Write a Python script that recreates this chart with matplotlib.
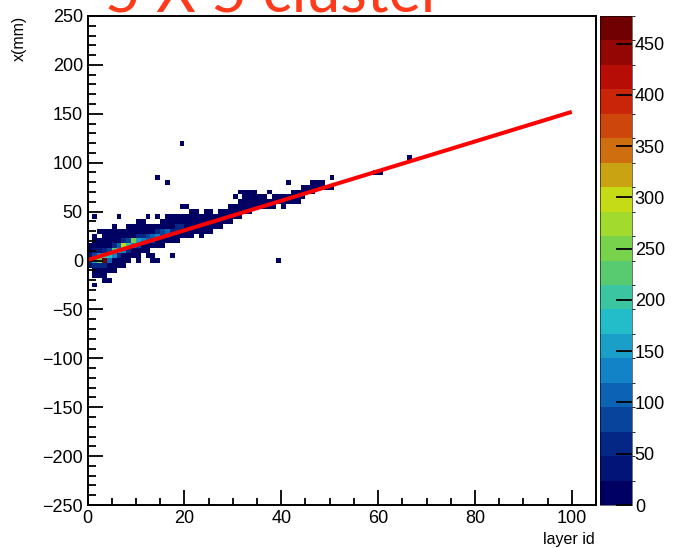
import numpy as np
import matplotlib
matplotlib.use("Agg")
import matplotlib.pyplot as plt
from matplotlib.colors import LinearSegmentedColormap, ListedColormap, BoundaryNorm

plt.rcParams['font.family'] = ['Liberation Sans', 'DejaVu Sans']

# ---- data ----
# occupied y bins (mm, bin centres) for each layer id
occupied = {
    0: [-5, 0, 5, 10, 15],
    1: [-25, -15, -10, -5, 0, 5, 10, 15, 20, 25, 45],
    2: [-15, -10, -5, 0, 5, 10, 15, 20, 30],
    3: [-20, -15, -10, -5, 0, 5, 10, 15, 20, 25, 30],
    4: [-20, -10, -5, 0, 5, 10, 15, 20, 25, 30],
    5: [-10, -5, 0, 5, 10, 15, 20, 25, 30, 35],
    6: [-5, 0, 5, 10, 15, 20, 25, 30, 45],
    7: [-5, 0, 5, 10, 15, 20, 25, 30],
    8: [0, 5, 10, 15, 20, 25, 30, 35],
    9: [5, 10, 15, 20, 25, 30, 35],
    10: [0, 5, 10, 15, 20, 25, 30, 35, 40],
    11: [10, 15, 20, 25, 30, 35, 40],
    12: [5, 10, 15, 20, 25, 30, 35, 45],
    13: [0, 5, 15, 20, 25, 30, 35],
    14: [0, 15, 20, 25, 30, 35, 45, 85],
    15: [15, 20, 25, 30, 35, 40],
    16: [20, 25, 30, 35, 40, 45, 80],
    17: [5, 20, 25, 30, 35, 40, 45],
    18: [20, 25, 30, 35, 40, 45],
    19: [25, 30, 35, 40, 45, 55, 120],
    20: [25, 30, 35, 40, 45, 55],
    21: [25, 30, 35, 40, 45, 50],
    22: [30, 35, 40, 45, 50],
    23: [25, 30, 35, 40, 45],
    24: [30, 35, 40, 45, 50],
    25: [30, 35, 40, 45, 50],
    26: [35, 40, 45],
    27: [35, 40, 45, 50],
    28: [40, 45, 50],
    29: [40, 45, 50, 55],
    30: [45, 50, 55, 65],
    31: [45, 50, 55, 60, 70],
    32: [50, 55, 60, 65, 70],
    33: [50, 55, 60, 65, 70],
    34: [55, 60, 65, 70],
    35: [55, 60, 65],
    36: [55, 60, 65],
    37: [55, 60, 70],
    38: [55, 60, 65],
    39: [0, 60, 65],
    40: [55, 60, 65],
    41: [60, 65, 80],
    42: [60, 65, 70],
    43: [60, 65, 70],
    44: [65, 70, 75],
    45: [70, 75],
    46: [70, 75, 80],
    47: [75, 80],
    48: [75, 80],
    49: [75],
    50: [75, 85],
    59: [90],
    60: [90],
    66: [105],
}

# entries of the brighter bins in the core
core_counts = {
    (0, -5): 30, (0, 0): 60, (0, 5): 30,
    (1, -5): 50, (1, 0): 150, (1, 5): 90, (1, 10): 30,
    (2, -5): 60, (2, 0): 260, (2, 5): 130, (2, 10): 40,
    (3, -5): 50, (3, 0): 477, (3, 5): 210, (3, 10): 60,
    (4, 0): 110, (4, 5): 170, (4, 10): 90,
    (5, 5): 120, (5, 10): 230, (5, 15): 60,
    (6, 5): 70, (6, 10): 150, (6, 15): 110,
    (7, 10): 120, (7, 15): 300, (7, 20): 50,
    (8, 10): 60, (8, 15): 200, (8, 20): 90,
    (9, 15): 140, (9, 20): 260,
    (10, 15): 90, (10, 20): 150, (10, 25): 50,
    (11, 20): 130, (11, 25): 70,
    (12, 20): 110, (12, 25): 90,
    (13, 20): 80, (13, 25): 100,
    (14, 25): 120, (14, 30): 50,
    (15, 25): 80, (15, 30): 90,
    (16, 25): 60, (16, 30): 100,
    (17, 30): 70,
    (18, 30): 60, (18, 35): 50,
    (19, 35): 50,
}
low_count = 8  # all the other bins are in the lowest colour band

# linear fit drawn in red
fit_x = [0, 100]
fit_y = [0.5, 152]

# ROOT kRainBow palette stops
pal_r = [0, 5, 15, 35, 102, 196, 208, 199, 110]
pal_g = [0, 48, 124, 192, 206, 226, 97, 16, 0]
pal_b = [99, 142, 198, 201, 90, 22, 13, 8, 2]
z_max = 477
n_levels = 20

# ---- histogram ----
xedges = np.arange(0, 106, 1)
yedges = np.arange(-252.5, 253, 5)
H = np.zeros((len(xedges) - 1, len(yedges) - 1))
for layer, ys in occupied.items():
    for y in ys:
        j = int(round((y + 250) / 5))
        H[layer, j] = core_counts.get((layer, y), low_count)
Hm = np.ma.masked_where(H <= 0, H)

stops = np.array([pal_r, pal_g, pal_b]).T / 255.0
base = LinearSegmentedColormap.from_list("rainbow", stops)
cmap = ListedColormap([base(i / (n_levels - 1)) for i in range(n_levels)])
levels = np.linspace(0, z_max, n_levels + 1)
norm = BoundaryNorm(levels, cmap.N)

W, Hpx = 673, 548
fig = plt.figure(figsize=(W / 100, Hpx / 100), dpi=100)
ax = fig.add_axes([87.5 / W, 43 / Hpx, 508.5 / W, 489 / Hpx])
mesh = ax.pcolormesh(xedges, yedges, Hm.T, cmap=cmap, norm=norm)
ax.plot(fit_x, fit_y, color='#ff0000', lw=2.9, solid_capstyle='butt')

ax.set_xlim(0, 105)
ax.set_ylim(-250, 250)
ax.set_xticks(range(0, 101, 20))
ax.set_xticks(range(0, 106, 5), minor=True)
ax.set_yticks(range(-250, 251, 50))
ax.set_yticks(range(-250, 251, 10), minor=True)
ax.tick_params(which='both', direction='in', top=False, right=False, width=1.3, labelsize=13)
ax.tick_params(which='major', length=10.8, pad=3.3)
ax.tick_params(which='minor', length=5.4)
for s in ax.spines.values():
    s.set_linewidth(1.4)

cax = fig.add_axes([600 / W, 43 / Hpx, 32 / W, 489 / Hpx])
cb = fig.colorbar(mesh, cax=cax, ticks=range(0, 451, 50))
cb.outline.set_linewidth(0.4)
cax.tick_params(direction='in', length=11.5, width=1.3, labelsize=13, pad=2)

fig.text(595 / W, 1 - 544 / Hpx, "layer id", ha='right', va='baseline', fontsize=11.5)
fig.text(19 / W, 1 - 16 / Hpx, "x(mm)", rotation=90, ha='center', va='top', fontsize=11.5)
# title sits mostly above the canvas, only its lower part shows (as in the reference)
fig.text(105 / W, 1 - 12 / Hpx, "5 X 5 cluster", color='#ff3a1a', fontsize=44,
         family=['Lato', 'Liberation Sans'], ha='left', va='baseline')

fig.savefig("out.png", dpi=100)
